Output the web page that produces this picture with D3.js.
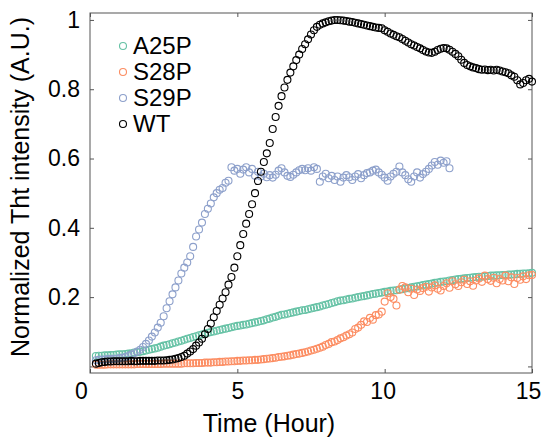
<!DOCTYPE html>
<html>
<head>
<meta charset="utf-8">
<script src="https://cdn.jsdelivr.net/npm/d3@7"></script>
<style>
  body { margin: 0; background: #fff; }
  svg { display: block; font-family: "Liberation Sans", Arial, sans-serif; }
</style>
</head>
<body>
<svg id="chart" width="541" height="437"></svg>
<script>
const seriesNames = ["A25P", "S28P", "S29P", "WT"];
const seriesColors = ["#66c2a5", "#fc8d62", "#8da0cb", "#000000"];
const tStart = 0.2, tStep = 0.1;

const a25p = [
  0.030, 0.031, 0.031, 0.032, 0.032, 0.033, 0.033, 0.034,
  0.035, 0.035, 0.036, 0.037, 0.038, 0.040, 0.041, 0.042, 0.044, 0.046,
  0.048, 0.050, 0.052, 0.054, 0.057, 0.060, 0.062, 0.064, 0.067, 0.069,
  0.072, 0.074, 0.077, 0.080, 0.082, 0.085, 0.087, 0.090, 0.092, 0.095,
  0.097, 0.099, 0.101, 0.103, 0.105, 0.107, 0.109, 0.111, 0.113, 0.115,
  0.117, 0.118, 0.120, 0.121, 0.123, 0.125, 0.127, 0.129, 0.131, 0.133,
  0.136, 0.138, 0.141, 0.143, 0.146, 0.149, 0.150, 0.152, 0.154, 0.156,
  0.158, 0.160, 0.162, 0.163, 0.165, 0.167, 0.169, 0.171, 0.173, 0.176,
  0.178, 0.180, 0.183, 0.185, 0.188, 0.190, 0.191, 0.193, 0.195, 0.196,
  0.198, 0.200, 0.202, 0.203, 0.205, 0.207, 0.209, 0.210, 0.212, 0.213,
  0.215, 0.216, 0.218, 0.219, 0.220, 0.222, 0.223, 0.225, 0.226, 0.228,
  0.230, 0.231, 0.233, 0.235, 0.236, 0.238, 0.239, 0.241, 0.242, 0.244,
  0.245, 0.246, 0.248, 0.249, 0.251, 0.252, 0.253, 0.254, 0.255, 0.256,
  0.257, 0.258, 0.259, 0.259, 0.260, 0.261, 0.262, 0.262, 0.263, 0.263,
  0.264, 0.264, 0.265, 0.265, 0.266, 0.267, 0.267, 0.268, 0.268, 0.269,
  0.270
];

const s28p = [
  0.005, 0.005, 0.005, 0.005, 0.006, 0.006, 0.006, 0.006,
  0.006, 0.006, 0.006, 0.006, 0.006, 0.006, 0.007, 0.007, 0.007, 0.007,
  0.007, 0.007, 0.007, 0.007, 0.007, 0.008, 0.008, 0.008, 0.008, 0.008,
  0.008, 0.008, 0.009, 0.009, 0.009, 0.009, 0.010, 0.010, 0.010, 0.011,
  0.011, 0.011, 0.012, 0.012, 0.013, 0.013, 0.014, 0.014, 0.015, 0.015,
  0.016, 0.016, 0.017, 0.017, 0.018, 0.018, 0.019, 0.019, 0.020, 0.021,
  0.022, 0.023, 0.024, 0.025, 0.027, 0.028, 0.029, 0.031, 0.032, 0.034,
  0.036, 0.037, 0.039, 0.041, 0.043, 0.046, 0.048, 0.051, 0.054, 0.057,
  0.062, 0.065, 0.070, 0.072, 0.076, 0.081, 0.084, 0.089, 0.093, 0.098,
  0.108, 0.112, 0.120, 0.130, 0.128, 0.140, 0.135, 0.148, 0.150, 0.158,
  0.187, 0.211, 0.200, 0.195, 0.176, 0.221, 0.232, 0.228, 0.214, 0.224,
  0.206, 0.222, 0.218, 0.226, 0.230, 0.216, 0.228, 0.234, 0.224, 0.219,
  0.232, 0.240, 0.227, 0.246, 0.237, 0.232, 0.243, 0.250, 0.238, 0.246,
  0.233, 0.248, 0.254, 0.244, 0.262, 0.252, 0.247, 0.256, 0.240, 0.252,
  0.248, 0.262, 0.246, 0.257, 0.238, 0.255, 0.250, 0.260, 0.252, 0.263,
  0.264
];

const s29p = [
  0.018, 0.019, 0.020, 0.020, 0.021, 0.021, 0.022, 0.022,
  0.024, 0.025, 0.027, 0.030, 0.034, 0.038, 0.043, 0.048, 0.056, 0.065,
  0.075, 0.086, 0.098, 0.112, 0.126, 0.145, 0.168, 0.188, 0.208, 0.228,
  0.248, 0.268, 0.285, 0.300, 0.318, 0.345, 0.375, 0.395, 0.415, 0.440,
  0.455, 0.470, 0.488, 0.500, 0.510, 0.515, 0.530, 0.536, 0.575, 0.565,
  0.570, 0.556, 0.568, 0.575, 0.560, 0.570, 0.550, 0.562, 0.548, 0.556,
  0.546, 0.552, 0.545, 0.553, 0.565, 0.572, 0.560, 0.550, 0.547, 0.553,
  0.560, 0.566, 0.570, 0.566, 0.572, 0.565, 0.575, 0.570, 0.533, 0.548,
  0.556, 0.543, 0.550, 0.538, 0.548, 0.533, 0.545, 0.552, 0.546, 0.538,
  0.548, 0.555, 0.543, 0.552, 0.558, 0.560, 0.565, 0.568, 0.560, 0.553,
  0.545, 0.536, 0.548, 0.556, 0.562, 0.577, 0.560, 0.552, 0.540, 0.533,
  0.548, 0.560, 0.545, 0.555, 0.562, 0.570, 0.580, 0.590, 0.582, 0.594,
  0.588, 0.592, 0.572
];

const wt = [
  0.008, 0.010, 0.012, 0.013, 0.014, 0.014, 0.015, 0.015,
  0.015, 0.015, 0.015, 0.015, 0.016, 0.015, 0.015, 0.016, 0.016, 0.016,
  0.016, 0.016, 0.016, 0.017, 0.017, 0.017, 0.018, 0.019, 0.020, 0.022,
  0.024, 0.027, 0.031, 0.037, 0.043, 0.050, 0.060, 0.069, 0.080, 0.093,
  0.108, 0.124, 0.142, 0.160, 0.178, 0.196, 0.214, 0.236, 0.258, 0.285,
  0.318, 0.350, 0.382, 0.412, 0.440, 0.468, 0.500, 0.535, 0.562, 0.590,
  0.615, 0.645, 0.685, 0.720, 0.752, 0.780, 0.805, 0.827, 0.848, 0.866,
  0.884, 0.900, 0.916, 0.930, 0.944, 0.958, 0.970, 0.980, 0.986, 0.990,
  0.993, 0.996, 0.998, 1.000, 1.000, 0.999, 0.998, 0.997, 0.995, 0.994,
  0.992, 0.990, 0.988, 0.986, 0.984, 0.982, 0.980, 0.978, 0.977, 0.976,
  0.970, 0.966, 0.961, 0.957, 0.953, 0.950, 0.945, 0.940, 0.935, 0.930,
  0.926, 0.922, 0.918, 0.913, 0.909, 0.906, 0.905, 0.908, 0.913, 0.917,
  0.919, 0.918, 0.914, 0.908, 0.902, 0.895, 0.885, 0.876, 0.870, 0.866,
  0.863, 0.861, 0.858, 0.856, 0.857, 0.855, 0.856, 0.854, 0.856, 0.854,
  0.851, 0.849, 0.846, 0.840, 0.836, 0.826, 0.814, 0.818, 0.826, 0.830,
  0.822
];

const xTicks = [0, 5, 10, 15];
const xTickShift = [-9, 0, -2, -4];
const yTicks = [0, 0.2, 0.4, 0.6, 0.8, 1];
const yTickLabels = ["", "0.2", "0.4", "0.6", "0.8", "1"];

const allSeries = [a25p, s28p, s29p, wt].map((vals, i) => ({
  name: seriesNames[i],
  color: seriesColors[i],
  points: vals.map((v, j) => ({ t: tStart + j * tStep, v }))
}));

const margin = { top: 13, right: 9, bottom: 64, left: 90 };
const W = 541, H = 437;
const iw = W - margin.left - margin.right;
const ih = H - margin.top - margin.bottom;

const svg = d3.select('#chart');
const g = svg.append('g').attr('transform', `translate(${margin.left},${margin.top})`);

const x = d3.scaleLinear().domain([0, 15]).range([0, iw]);
const y = d3.scaleLinear().domain([-0.019, 1.02]).range([ih, 0]);

const axisColor = '#555';
const tickFont = 23;

// axes, ticks inward like the original
const xAx = g.append('g').attr('transform', `translate(0,${ih})`)
  .call(d3.axisBottom(x).tickValues(xTicks).tickSizeInner(-4).tickSizeOuter(0).tickPadding(10));
xAx.selectAll('text').attr('dx', (d, i) => xTickShift[i]);
const xTop = g.append('g')
  .call(d3.axisTop(x).tickValues(xTicks).tickSizeInner(-4).tickSizeOuter(0).tickFormat(''));
const yAx = g.append('g')
  .call(d3.axisLeft(y).tickValues(yTicks).tickSizeInner(-4).tickSizeOuter(0).tickPadding(10)
    .tickFormat((d, i) => yTickLabels[i]));
const yRight = g.append('g').attr('transform', `translate(${iw},0)`)
  .call(d3.axisRight(y).tickValues(yTicks).tickSizeInner(-4).tickSizeOuter(0).tickFormat(''));

[xAx, xTop, yAx, yRight].forEach(a => {
  a.select('.domain').remove();
  a.selectAll('line').attr('stroke', axisColor);
  a.selectAll('text').attr('font-size', tickFont).attr('fill', '#000')
    .attr('font-family', '"Liberation Sans", Arial, sans-serif');
});

g.append('rect').attr('width', iw).attr('height', ih)
  .attr('fill', 'none').attr('stroke', axisColor).attr('stroke-width', 1);

// points
allSeries.forEach(s => {
  g.append('g').selectAll('circle').data(s.points).join('circle')
    .attr('cx', d => x(d.t))
    .attr('cy', d => y(d.v))
    .attr('r', 3.5)
    .attr('fill', 'none')
    .attr('stroke', s.color)
    .attr('stroke-width', 1.1);
});

// legend
const leg = g.append('g').attr('transform', 'translate(33,33)');
allSeries.forEach((s, i) => {
  const row = leg.append('g').attr('transform', `translate(0,${i * 26})`);
  row.append('circle').attr('r', 3.5).attr('fill', 'none')
    .attr('stroke', s.color).attr('stroke-width', 1.1);
  row.append('text').attr('x', 10).attr('dy', '0.35em')
    .attr('font-size', 24).text(s.name);
});

// axis titles
svg.append('text')
  .attr('x', 269).attr('y', 432)
  .attr('text-anchor', 'middle').attr('font-size', 25)
  .text('Time (Hour)');
svg.append('text')
  .attr('transform', 'translate(29,187) rotate(-90)')
  .attr('text-anchor', 'middle').attr('font-size', 25)
  .text('Normalized Tht intensity (A.U.)');
</script>
</body>
</html>
